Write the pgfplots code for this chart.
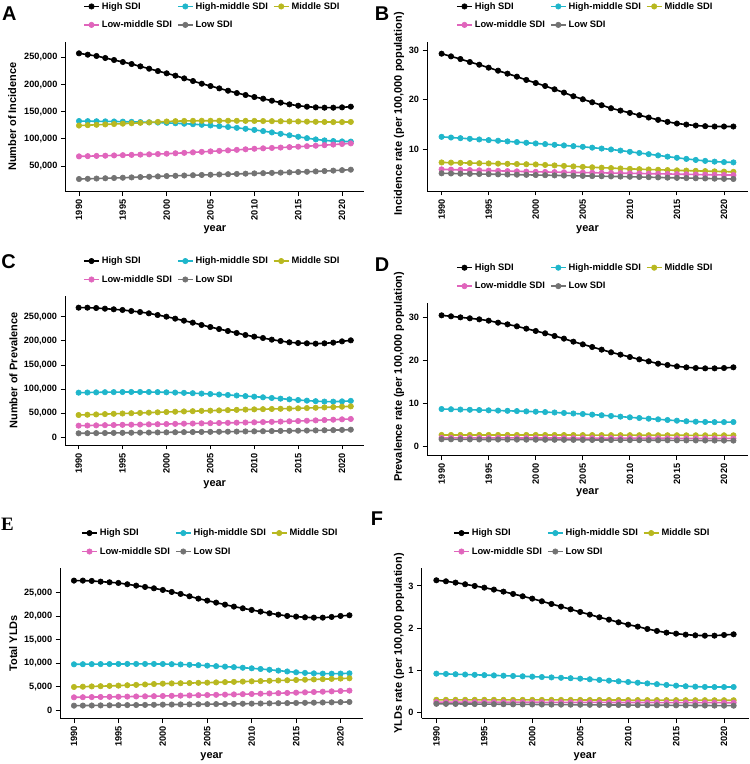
\documentclass[border=0pt]{standalone}
\usepackage{fontspec}
\setmainfont{Liberation Sans}
\newfontfamily\panelserif{Liberation Serif}
\usepackage{pgfplots}
\usepackage{pgfplotstable}
\pgfplotsset{compat=1.18}

\definecolor{cH}{HTML}{000000}
\definecolor{cHM}{HTML}{1FB6CB}
\definecolor{cM}{HTML}{B8B820}
\definecolor{cLM}{HTML}{E065BC}
\definecolor{cL}{HTML}{737373}

% Incidence counts
\pgfplotstableread{
year H HM M LM L
1990 257400 132800 124500 67800 26100
1991 254900 132600 125200 68200 26500
1992 252500 132400 125900 68600 27000
1993 248800 132200 126600 69000 27500
1994 245100 132000 127300 69500 28000
1995 241400 131700 128000 70000 28500
1996 237700 131300 128700 70500 29100
1997 233400 130900 129500 71000 29700
1998 229100 130500 130300 71500 30300
1999 224800 130000 131200 72100 30900
2000 220600 129400 132000 72700 31600
2001 216300 128700 132600 73500 32100
2002 211300 127900 133000 74300 32600
2003 206400 127000 133200 75200 33100
2004 201500 125900 133300 76100 33600
2005 197200 124700 133300 77000 34000
2006 192900 123400 133300 77900 34500
2007 188600 121900 133300 78800 35000
2008 184300 120300 133200 79800 35500
2009 180700 118500 133100 80800 36000
2010 177000 116500 133000 81800 36500
2011 173900 114300 132800 82600 36900
2012 170200 111900 132600 83300 37400
2013 166600 109300 132400 84000 37900
2014 163500 106600 132200 84800 38400
2015 161000 103900 132000 85600 39000
2016 159200 101300 131700 86500 39500
2017 158000 99000 131400 87400 40100
2018 157400 97200 131100 88400 40800
2019 157400 96000 130900 89500 41600
2020 158000 95300 130900 90600 42400
2021 159200 95000 131200 91700 43300
}\tabA

% Incidence rate
\pgfplotstableread{
year H HM M LM L
1990 29.33 12.49 7.30 5.90 5.10
1991 28.79 12.35 7.26 5.85 5.07
1992 28.25 12.22 7.22 5.80 5.03
1993 27.64 12.09 7.18 5.75 5.00
1994 27.10 11.96 7.14 5.70 4.96
1995 26.50 11.83 7.10 5.65 4.93
1996 25.89 11.70 7.06 5.60 4.89
1997 25.29 11.57 7.02 5.55 4.86
1998 24.68 11.43 6.98 5.50 4.82
1999 24.01 11.29 6.94 5.45 4.79
2000 23.40 11.15 6.90 5.40 4.75
2001 22.79 11.02 6.80 5.37 4.72
2002 22.12 10.88 6.70 5.34 4.68
2003 21.45 10.75 6.60 5.31 4.65
2004 20.71 10.61 6.50 5.28 4.61
2005 20.10 10.47 6.40 5.25 4.58
2006 19.49 10.30 6.32 5.22 4.54
2007 18.89 10.12 6.24 5.19 4.51
2008 18.28 9.93 6.16 5.16 4.47
2009 17.81 9.71 6.08 5.13 4.44
2010 17.34 9.46 6.00 5.10 4.40
2011 16.87 9.22 5.94 5.07 4.36
2012 16.40 8.98 5.88 5.03 4.31
2013 15.93 8.73 5.82 5.00 4.27
2014 15.52 8.48 5.76 4.97 4.22
2015 15.19 8.25 5.70 4.93 4.18
2016 14.98 8.02 5.65 4.90 4.14
2017 14.78 7.81 5.60 4.86 4.10
2018 14.65 7.62 5.55 4.83 4.06
2019 14.58 7.47 5.50 4.80 4.02
2020 14.58 7.37 5.45 4.77 3.98
2021 14.58 7.31 5.40 4.75 3.95
}\tabB

% Prevalence counts
\pgfplotstableread{
year H HM M LM L
1990 268600 93000 46800 24800 9000
1991 268600 93300 47400 25100 9200
1992 267900 93600 48000 25400 9400
1993 266500 93900 48700 25800 9600
1994 265200 94100 49300 26100 9800
1995 263800 94300 49900 26500 10000
1996 261700 94400 50500 26800 10200
1997 259600 94400 51100 27100 10400
1998 256900 94300 51700 27500 10600
1999 253400 94100 52400 27800 10800
2000 250000 93700 53000 28200 11000
2001 245900 93200 53600 28500 11200
2002 241700 92600 54200 28900 11400
2003 237600 91900 54700 29200 11600
2004 232800 91100 55300 29600 11800
2005 228600 90200 55800 29900 12000
2006 224500 89200 56300 30300 12200
2007 220400 88200 56900 30600 12400
2008 216300 87100 57400 31000 12600
2009 212100 85900 58000 31300 12900
2010 208700 84700 58500 31700 13100
2011 205900 83400 58900 32200 13300
2012 202500 82000 59300 32700 13600
2013 199700 80600 59700 33200 13900
2014 197000 79200 60100 33800 14100
2015 195600 77800 60600 34400 14400
2016 194900 76500 61200 35000 14700
2017 194200 75400 61800 35700 15000
2018 194900 74600 62500 36400 15300
2019 196300 74400 63200 37100 15600
2020 199000 75000 64000 37900 16000
2021 201100 76000 64700 38600 16500
}\tabC

% Prevalence rate
\pgfplotstableread{
year H HM M LM L
1990 30.47 8.74 2.72 2.06 1.72
1991 30.24 8.68 2.72 2.06 1.71
1992 30.00 8.62 2.72 2.05 1.70
1993 29.78 8.56 2.72 2.05 1.69
1994 29.54 8.50 2.72 2.05 1.68
1995 29.23 8.44 2.72 2.04 1.67
1996 28.77 8.38 2.72 2.04 1.66
1997 28.38 8.32 2.72 2.03 1.65
1998 27.92 8.26 2.72 2.03 1.64
1999 27.38 8.19 2.72 2.02 1.63
2000 26.84 8.12 2.72 2.02 1.62
2001 26.30 8.03 2.71 2.01 1.61
2002 25.68 7.93 2.71 2.01 1.60
2003 25.06 7.82 2.70 2.00 1.59
2004 24.36 7.70 2.70 2.00 1.58
2005 23.74 7.58 2.69 1.99 1.57
2006 23.12 7.44 2.69 1.99 1.56
2007 22.51 7.29 2.68 1.98 1.55
2008 21.89 7.13 2.68 1.98 1.54
2009 21.35 6.97 2.67 1.97 1.53
2010 20.80 6.81 2.67 1.97 1.52
2011 20.26 6.65 2.66 1.96 1.51
2012 19.80 6.50 2.66 1.96 1.50
2013 19.26 6.35 2.65 1.95 1.49
2014 18.95 6.19 2.65 1.95 1.48
2015 18.64 6.03 2.65 1.94 1.47
2016 18.41 5.90 2.64 1.94 1.46
2017 18.25 5.80 2.64 1.93 1.45
2018 18.17 5.74 2.64 1.93 1.44
2019 18.17 5.70 2.64 1.92 1.43
2020 18.25 5.70 2.64 1.92 1.42
2021 18.41 5.72 2.64 1.91 1.41
}\tabD

% Total YLDs
\pgfplotstableread{
year H HM M LM L
1990 27630 9800 4970 2770 990
1991 27630 9820 5030 2790 1010
1992 27560 9840 5090 2820 1030
1993 27410 9850 5140 2840 1050
1994 27270 9860 5200 2870 1070
1995 27130 9870 5260 2890 1090
1996 26850 9880 5340 2920 1110
1997 26560 9880 5420 2950 1130
1998 26280 9880 5510 2980 1150
1999 25990 9880 5600 3010 1180
2000 25640 9870 5680 3050 1210
2001 25210 9830 5730 3090 1230
2002 24790 9770 5770 3130 1250
2003 24290 9700 5810 3170 1270
2004 23790 9620 5850 3220 1290
2005 23370 9520 5890 3260 1310
2006 22940 9410 5950 3300 1330
2007 22510 9300 6010 3350 1350
2008 22090 9190 6060 3390 1370
2009 21730 9070 6120 3440 1400
2010 21380 8950 6180 3480 1420
2011 21020 8800 6230 3540 1450
2012 20670 8640 6290 3590 1480
2013 20380 8460 6350 3650 1510
2014 20100 8280 6400 3700 1540
2015 19960 8100 6460 3760 1570
2016 19810 7970 6520 3830 1600
2017 19740 7870 6580 3900 1630
2018 19740 7810 6640 3970 1670
2019 19890 7800 6700 4040 1700
2020 20100 7830 6760 4110 1740
2021 20240 7880 6820 4190 1780
}\tabE

% YLDs rate
\pgfplotstableread{
year H HM M LM L
1990 3.135 0.913 0.290 0.236 0.195
1991 3.111 0.906 0.290 0.236 0.194
1992 3.079 0.899 0.290 0.235 0.192
1993 3.040 0.892 0.290 0.235 0.191
1994 3.000 0.885 0.290 0.234 0.189
1995 2.960 0.878 0.290 0.234 0.188
1996 2.913 0.871 0.290 0.233 0.186
1997 2.865 0.864 0.289 0.233 0.185
1998 2.810 0.857 0.289 0.232 0.183
1999 2.754 0.849 0.289 0.232 0.182
2000 2.698 0.841 0.289 0.231 0.180
2001 2.635 0.832 0.288 0.231 0.179
2002 2.571 0.823 0.288 0.230 0.177
2003 2.508 0.814 0.288 0.230 0.176
2004 2.444 0.804 0.287 0.229 0.174
2005 2.381 0.794 0.287 0.229 0.173
2006 2.317 0.779 0.286 0.228 0.171
2007 2.254 0.763 0.286 0.228 0.170
2008 2.198 0.747 0.285 0.227 0.168
2009 2.135 0.731 0.285 0.227 0.167
2010 2.079 0.714 0.284 0.226 0.165
2011 2.032 0.697 0.284 0.226 0.164
2012 1.976 0.680 0.283 0.225 0.162
2013 1.929 0.662 0.283 0.225 0.161
2014 1.889 0.644 0.282 0.224 0.160
2015 1.865 0.627 0.282 0.224 0.158
2016 1.841 0.613 0.281 0.223 0.157
2017 1.825 0.603 0.281 0.223 0.155
2018 1.817 0.597 0.281 0.222 0.154
2019 1.817 0.594 0.280 0.222 0.153
2020 1.833 0.594 0.280 0.221 0.151
2021 1.849 0.595 0.280 0.221 0.150
}\tabF

\pgfplotsset{
  ser/.style={line width=1.6bp, mark=*, mark size=2.7bp, mark options={solid, line width=0.6bp}},
  sdipanel/.style={
    scale only axis,
    anchor=south west,
    axis lines*=left,
    axis line style={line width=0.9bp, black},
    every tick/.style={black, line width=0.9bp},
    tick align=outside,
    major tick length=4.5bp,
    xmin=1988.45, xmax=2022.55,
    xtick={1990,1995,2000,2005,2010,2015,2020},
    xticklabels={1990,1995,2000,2005,2010,2015,2020},
    x tick label style={rotate=90, anchor=east},
    scaled x ticks=false,
    scaled y ticks=false,
    tick label style={font=\bfseries\fontsize{9.2}{11}\selectfont},
    label style={font=\bfseries\fontsize{11}{13}\selectfont},
    xlabel={year},
    legend columns=3,
    legend cell align=left,
    legend image code/.code={%
      \draw[#1, mark repeat=2, mark phase=2] plot coordinates {(0bp,0bp) (7.5bp,0bp) (15bp,0bp)};},
    legend style={draw=none, fill=none, inner sep=0pt, anchor=north west,
      font=\bfseries\fontsize{9.4}{11}\selectfont,
      row sep=5bp,
      /tikz/every even column/.append style={column sep=3bp},
      nodes={inner sep=2pt, text depth=0.2em, text height=0.75em}},
  },
}

\newcommand{\sdiplots}[1]{%
  \addplot[ser, cH]  table[x=year, y=H]  {#1};
  \addplot[ser, cHM] table[x=year, y=HM] {#1};
  \addplot[ser, cM]  table[x=year, y=M]  {#1};
  \addplot[ser, cLM] table[x=year, y=LM] {#1};
  \addplot[ser, cL]  table[x=year, y=L]  {#1};
  \legend{High SDI, High-middle SDI, Middle SDI, Low-middle SDI, Low SDI}%
}

\begin{document}
\begin{tikzpicture}
\path[use as bounding box] (0,0) rectangle (750bp,764bp);

% A: number of incidence
\begin{axis}[sdipanel, at={(65.4bp,572.3bp)}, width=299bp, height=150bp,
  ymin=2800, ymax=278800, ytick={50000,100000,150000,200000,250000},
  yticklabels={{50,000},{100,000},{150,000},{200,000},{250,000}},
  ylabel={Number of Incidence},
  ylabel style={at={(axis description cs:-0.178,0.5)}, anchor=center},
  xlabel style={at={(axis description cs:0.5,-0.255)}, anchor=center},
  legend style={at={(0.0589,1.281)}}]
\sdiplots{\tabA}
\end{axis}

% B: incidence rate
\begin{axis}[sdipanel, at={(427bp,573bp)}, width=321bp, height=149bp,
  ymin=1.52, ymax=31.7, ytick={10,20,30}, yticklabels={10,20,30},
  ylabel={Incidence rate (per 100,000 population)},
  ylabel style={at={(axis description cs:-0.087,0.519)}, anchor=center},
  xlabel style={at={(axis description cs:0.5,-0.261)}, anchor=center},
  legend style={at={(0.0903,1.285)}}]
\sdiplots{\tabB}
\end{axis}

% C: number of prevalence
\begin{axis}[sdipanel, at={(65bp,319bp)}, width=299.4bp, height=149bp,
  ymin=-15150, ymax=292700, ytick={0,50000,100000,150000,200000,250000},
  yticklabels={0,{50,000},{100,000},{150,000},{200,000},{250,000}},
  ylabel={Number of Prevalence},
  ylabel style={at={(axis description cs:-0.172,0.5)}, anchor=center},
  xlabel style={at={(axis description cs:0.5,-0.264)}, anchor=center},
  legend style={at={(0.0601,1.281)}}]
\sdiplots{\tabC}
\end{axis}

% D: prevalence rate
\begin{axis}[sdipanel, at={(427bp,308.3bp)}, width=321bp, height=153bp,
  ymin=-2.09, ymax=33.4, ytick={0,10,20,30}, yticklabels={0,10,20,30},
  ylabel={Prevalence rate (per 100,000 population)},
  ylabel style={at={(axis description cs:-0.087,0.516)}, anchor=center},
  xlabel style={at={(axis description cs:0.5,-0.242)}, anchor=center},
  legend style={at={(0.0903,1.274)}}]
\sdiplots{\tabD}
\end{axis}

% E: total YLDs
\begin{axis}[sdipanel, at={(60.2bp,45.7bp)}, width=303bp, height=150bp,
  ymin=-1700, ymax=30250, ytick={0,5000,10000,15000,20000,25000},
  yticklabels={0,{5,000},{10,000},{15,000},{20,000},{25,000}},
  ylabel={Total YLDs},
  ylabel style={at={(axis description cs:-0.155,0.5)}, anchor=center},
  xlabel style={at={(axis description cs:0.5,-0.256)}, anchor=center},
  legend style={at={(0.0686,1.281)}}]
\sdiplots{\tabE}
\end{axis}

% F: YLDs rate
\begin{axis}[sdipanel, at={(421.5bp,45.7bp)}, width=327bp, height=150bp,
  ymin=-0.15, ymax=3.42, ytick={0,1,2,3}, yticklabels={0,1,2,3},
  ylabel={YLDs rate (per 100,000 population)},
  ylabel style={at={(axis description cs:-0.069,0.5)}, anchor=center},
  xlabel style={at={(axis description cs:0.5,-0.256)}, anchor=center},
  legend style={at={(0.0963,1.281)}}]
\sdiplots{\tabF}
\end{axis}

% panel letters
\begin{scope}[every node/.style={inner sep=0pt}]
\node[font=\bfseries\fontsize{20}{24}\selectfont] at (9.2bp,750.3bp) {A};
\node[font=\bfseries\fontsize{20}{24}\selectfont] at (382bp,750.7bp) {B};
\node[font=\bfseries\fontsize{20}{24}\selectfont] at (8.5bp,502.3bp) {C};
\node[font=\bfseries\fontsize{20}{24}\selectfont] at (382bp,499bp) {D};
\node[font=\panelserif\bfseries\fontsize{19}{23}\selectfont] at (7.5bp,239.5bp) {E};
\node[font=\bfseries\fontsize{20}{24}\selectfont] at (377bp,245bp) {F};
\end{scope}
\end{tikzpicture}
\end{document}
